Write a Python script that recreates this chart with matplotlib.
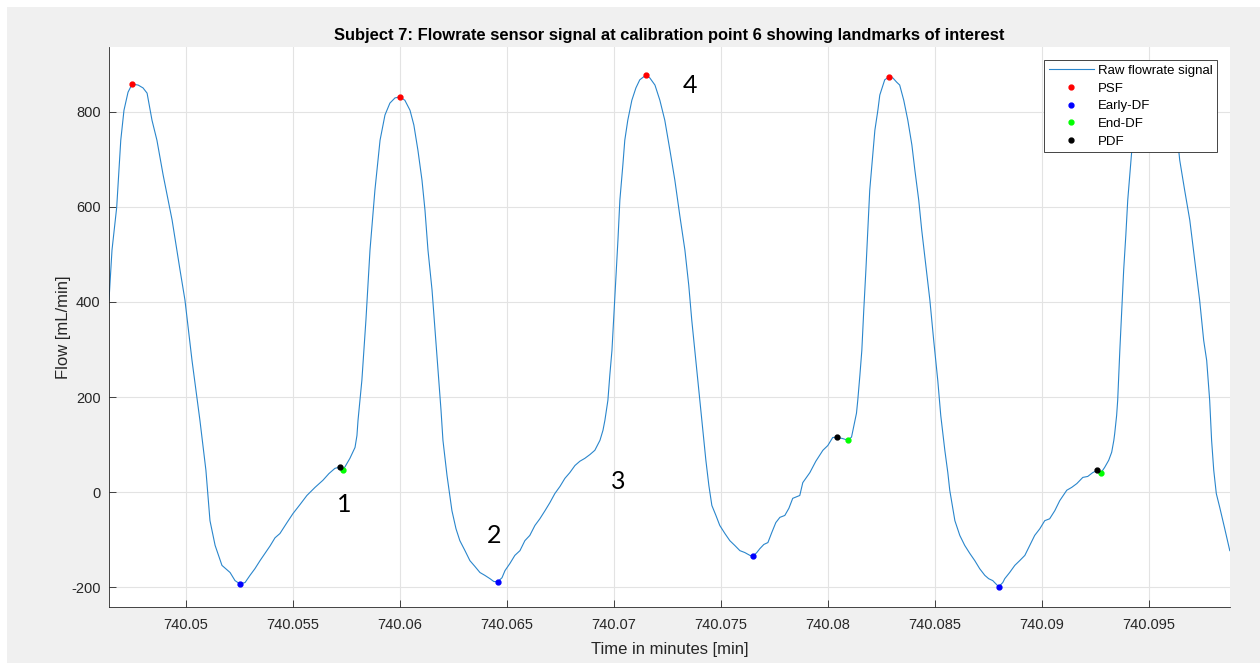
import numpy as np
import matplotlib.pyplot as plt
from matplotlib.patches import Rectangle

# raw flowrate trace (time in minutes, flow in mL/min)
time_min = [
    740.04640, 740.04654, 740.04676, 740.04695, 740.04710, 740.04729, 740.04748,
    740.04776, 740.04799, 740.04818, 740.04841, 740.04864, 740.04893, 740.04935,
    740.04972, 740.04995, 740.05028, 740.05065, 740.05093, 740.05112, 740.05136,
    740.05168, 740.05206, 740.05229, 740.05252, 740.05276, 740.05299, 740.05322,
    740.05346, 740.05369, 740.05393, 740.05416, 740.05439, 740.05472, 740.05500,
    740.05533, 740.05565, 740.05603, 740.05640, 740.05668, 740.05696, 740.05720,
    740.05735, 740.05766, 740.05790, 740.05799, 740.05804, 740.05813, 740.05822,
    740.05841, 740.05860, 740.05883, 740.05907, 740.05930, 740.05953, 740.05977,
    740.06000, 740.06023, 740.06047, 740.06065, 740.06084, 740.06103, 740.06117,
    740.06131, 740.06150, 740.06164, 740.06178, 740.06192, 740.06201, 740.06220,
    740.06243, 740.06262, 740.06280, 740.06304, 740.06327, 740.06350, 740.06374,
    740.06397, 740.06421, 740.06439, 740.06458, 740.06477, 740.06491, 740.06514,
    740.06537, 740.06561, 740.06584, 740.06607, 740.06631, 740.06654, 740.06678,
    740.06701, 740.06724, 740.06748, 740.06771, 740.06794, 740.06818, 740.06841,
    740.06864, 740.06888, 740.06911, 740.06935, 740.06949, 740.06958, 740.06972,
    740.06981, 740.06991, 740.07000, 740.07009, 740.07019, 740.07028, 740.07042,
    740.07051, 740.07065, 740.07084, 740.07103, 740.07121, 740.07150, 740.07168,
    740.07192, 740.07215, 740.07238, 740.07262, 740.07285, 740.07308, 740.07332,
    740.07350, 740.07364, 740.07383, 740.07402, 740.07416, 740.07430, 740.07444,
    740.07458, 740.07477, 740.07495, 740.07519, 740.07542, 740.07565, 740.07589,
    740.07612, 740.07636, 740.07650, 740.07668, 740.07682, 740.07701, 740.07720,
    740.07738, 740.07757, 740.07776, 740.07799, 740.07818, 740.07836, 740.07869,
    740.07883, 740.07916, 740.07944, 740.07977, 740.08000, 740.08023, 740.08041,
    740.08067, 740.08095, 740.08111, 740.08122, 740.08134, 740.08140, 740.08150,
    740.08159, 740.08168, 740.08178, 740.08187, 740.08196, 740.08210, 740.08220,
    740.08234, 740.08243, 740.08266, 740.08285, 740.08304, 740.08322, 740.08336,
    740.08355, 740.08374, 740.08393, 740.08407, 740.08425, 740.08439, 740.08458,
    740.08477, 740.08495, 740.08514, 740.08528, 740.08547, 740.08561, 740.08570,
    740.08594, 740.08617, 740.08640, 740.08664, 740.08687, 740.08710, 740.08734,
    740.08752, 740.08771, 740.08799, 740.08818, 740.08827, 740.08850, 740.08874,
    740.08897, 740.08921, 740.08944, 740.08967, 740.08991, 740.09014, 740.09037,
    740.09061, 740.09084, 740.09117, 740.09140, 740.09164, 740.09192, 740.09215,
    740.09238, 740.09260, 740.09276, 740.09294, 740.09313, 740.09327, 740.09337,
    740.09341, 740.09350, 740.09355, 740.09365, 740.09374, 740.09383, 740.09393,
    740.09402, 740.09421, 740.09458, 740.09505, 740.09551, 740.09589, 740.09621,
    740.09645, 740.09668, 740.09692, 740.09715, 740.09738, 740.09757, 740.09771,
    740.09785, 740.09794, 740.09804, 740.09816, 740.09832, 740.09855, 740.09879,
]
flow = [
    404, 509, 599, 740, 803, 841, 858,
    856, 850, 839, 782, 740, 667, 572,
    467, 404, 277, 151, 46, -60, -112,
    -154, -169, -186, -193, -190, -175, -161,
    -144, -129, -113, -96, -87, -64, -45,
    -26, -7, 10, 25, 39, 50, 53,
    47, 71, 94, 119, 151, 193, 235,
    362, 509, 635, 740, 793, 818, 829,
    831, 824, 803, 772, 719, 656, 593,
    509, 425, 340, 256, 172, 109, 35,
    -39, -77, -102, -123, -144, -156, -169,
    -175, -182, -188, -188, -180, -165, -150,
    -133, -123, -102, -91, -70, -56, -39,
    -22, -3, 12, 29, 41, 56, 65,
    71, 79, 88, 109, 130, 151, 193,
    246, 298, 372, 446, 530, 614, 688,
    740, 782, 824, 850, 867, 877, 871,
    856, 824, 782, 719, 656, 582, 509,
    435, 362, 277, 193, 130, 67, 14,
    -28, -49, -70, -87, -102, -112, -123,
    -127, -133, -135, -127, -119, -110, -106,
    -85, -64, -53, -49, -34, -13, -7,
    20, 41, 65, 88, 98, 115, 115,
    113, 109, 116, 140, 166, 193, 246,
    298, 382, 467, 551, 635, 709, 761,
    803, 835, 867, 873, 871, 862, 856,
    824, 782, 730, 677, 614, 551, 477,
    404, 319, 235, 161, 88, 41, 4,
    -60, -91, -112, -129, -144, -161, -175,
    -182, -186, -199, -190, -182, -169, -154,
    -144, -133, -112, -91, -77, -60, -56,
    -39, -18, 4, 10, 18, 31, 33,
    41, 46, 40, 52, 67, 84, 109,
    123, 161, 193, 298, 382, 467, 540,
    614, 719, 803, 856, 871, 862, 803,
    698, 635, 572, 488, 404, 319, 277,
    193, 109, 46, -3, -32, -76, -123,
]

# landmarks
psf_t = [740.04748, 740.06000, 740.07150, 740.08285]
psf_f = [858, 831, 877, 873]
early_t = [740.05252, 740.06458, 740.07650, 740.08799]
early_f = [-193, -188, -135, -199]
end_t = [740.05735, 740.08095, 740.09276]
end_f = [47, 109, 40]
pdf_t = [740.05720, 740.08041, 740.09260]
pdf_f = [53, 115, 46]

# numbered callouts
note_text = ['1', '2', '3', '4']
note_t = [740.05738, 740.06439, 740.07019, 740.07355]
note_f = [-26, -91, 23, 854]

xticks = [740.05, 740.055, 740.06, 740.065, 740.07, 740.075, 740.08, 740.085, 740.09, 740.095]
xtick_labels = ['740.05', '740.055', '740.06', '740.065', '740.07', '740.075',
                '740.08', '740.085', '740.09', '740.095']
yticks = [-200, 0, 200, 400, 600, 800]

plt.rcParams['font.family'] = ['Liberation Sans', 'DejaVu Sans']
plt.rcParams['axes.unicode_minus'] = False
axcol = '#262626'

fig = plt.figure(figsize=(12.6, 6.63), dpi=100, facecolor='white')
# grey panel behind the axes
fig.patches.append(Rectangle((7 / 1260, 0), 1 - 7 / 1260, 656 / 663,
                             transform=fig.transFigure, facecolor='#f0f0f0',
                             edgecolor='none', zorder=-10))
ax = fig.add_axes([109 / 1260, 56 / 663, 1121 / 1260, 560 / 663])
ax.set_facecolor('white')

ax.plot(time_min, flow, color='#2a86cc', lw=0.8, label='Raw flowrate signal')
ax.plot(psf_t, psf_f, '.', color='red', ms=7, label='PSF')
ax.plot(early_t, early_f, '.', color='blue', ms=7, label='Early-DF')
ax.plot(end_t, end_f, '.', color='#00ff00', ms=7, label='End-DF')
ax.plot(pdf_t, pdf_f, '.', color='black', ms=7, label='PDF')

for s, t, f in zip(note_text, note_t, note_f):
    ax.text(t, f, s, fontsize=18, family=['Lato', 'DejaVu Sans'],
            ha='center', va='center', color='black')

ax.set_xlim(740.0464, 740.0988)
ax.set_ylim(-241.5, 936)
ax.set_xticks(xticks)
ax.set_xticklabels(xtick_labels)
ax.set_yticks(yticks)
ax.grid(True, color='#e3e3e3', lw=0.8)
ax.set_axisbelow(True)
for side in ['top', 'right']:
    ax.spines[side].set_visible(False)
for side in ['left', 'bottom']:
    ax.spines[side].set_color(axcol)
    ax.spines[side].set_linewidth(0.6)
ax.tick_params(direction='in', length=5, width=0.6, color=axcol,
               labelcolor=axcol, labelsize=10.5)
ax.tick_params(axis='x', pad=8)
ax.tick_params(axis='y', pad=6)

ax.set_xlabel('Time in minutes [min]', fontsize=12, color=axcol, labelpad=7)
ax.set_ylabel('Flow [mL/min]', fontsize=12, color=axcol, labelpad=0)
ax.set_title('Subject 7: Flowrate sensor signal at calibration point 6 showing landmarks of interest',
             fontsize=11.9, fontweight='bold', color='black', pad=5)

leg = ax.legend(loc='upper right', bbox_to_anchor=(0.9885, 0.977), fontsize=9.5,
                frameon=True, fancybox=False, framealpha=1, edgecolor=axcol,
                handlelength=3.4, handletextpad=0.3, labelspacing=0.42,
                borderpad=0.35, borderaxespad=0)
leg.get_frame().set_linewidth(0.6)
leg.set_zorder(5)

fig.savefig('out.png', dpi=100, facecolor=fig.get_facecolor())
